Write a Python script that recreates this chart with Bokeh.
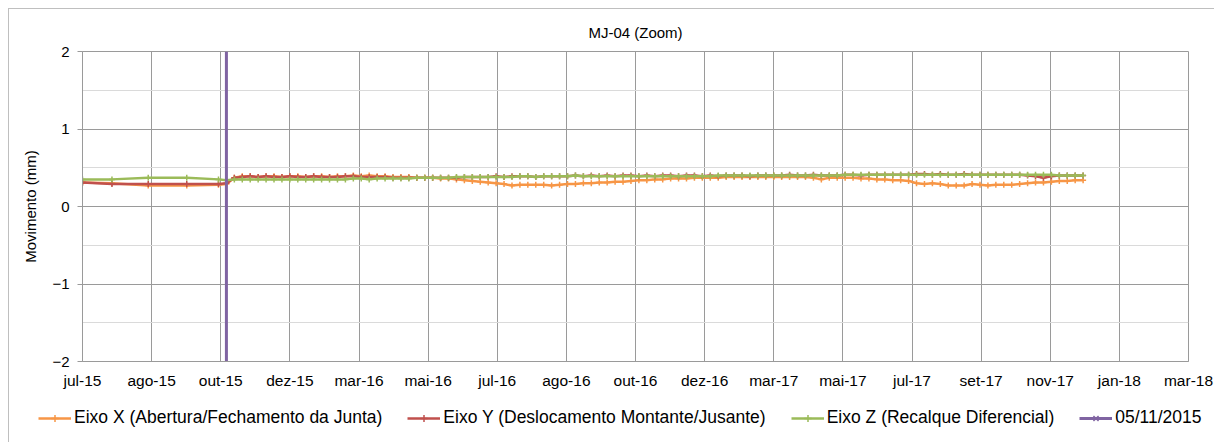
import pandas as pd
from bokeh.plotting import figure
from bokeh.layouts import column
from bokeh.models import FixedTicker, Legend, LegendItem, Range1d
from bokeh.embed import file_html
from bokeh.resources import INLINE

TITLE = "MJ-04 (Zoom)"
Y_LABEL = "Movimento (mm)"
AXIS_START = "2015-07-01"
TICK_STEP_DAYS = 61
TICK_LABELS = ["jul-15", "ago-15", "out-15", "dez-15", "mar-16", "mai-16", "jul-16",
               "ago-16", "out-16", "dez-16", "mar-17", "mai-17", "jul-17", "set-17",
               "nov-17", "jan-18", "mar-18"]
Y_TICKS = [-2, -1, 0, 1, 2]
Y_MINOR = [-1.5, -0.5, 0.5, 1.5]

DATES = [
    "2015-07-01", "2015-07-27", "2015-08-28", "2015-10-01", "2015-10-29",
    "2015-11-05", "2015-11-12", "2015-11-19", "2015-11-26", "2015-12-03", "2015-12-10", "2015-12-17", "2015-12-24", "2015-12-31",
    "2016-01-07", "2016-01-14", "2016-01-21", "2016-01-28",
    "2016-02-04", "2016-02-11", "2016-02-18", "2016-02-25",
    "2016-03-03", "2016-03-10", "2016-03-17", "2016-03-24", "2016-03-31",
    "2016-04-07", "2016-04-14", "2016-04-21", "2016-04-28",
    "2016-05-05", "2016-05-12", "2016-05-19", "2016-05-26",
    "2016-06-02", "2016-06-09", "2016-06-16", "2016-06-23", "2016-06-30",
    "2016-07-07", "2016-07-14", "2016-07-21", "2016-07-28",
    "2016-08-04", "2016-08-11", "2016-08-18", "2016-08-25",
    "2016-09-01", "2016-09-08", "2016-09-15", "2016-09-22", "2016-09-29",
    "2016-10-06", "2016-10-13", "2016-10-20", "2016-10-27",
    "2016-11-03", "2016-11-10", "2016-11-17", "2016-11-24",
    "2016-12-01", "2016-12-08", "2016-12-15", "2016-12-22", "2016-12-29",
    "2017-01-05", "2017-01-12", "2017-01-19", "2017-01-26",
    "2017-02-02", "2017-02-09", "2017-02-16", "2017-02-23",
    "2017-03-02", "2017-03-09", "2017-03-16", "2017-03-23", "2017-03-30",
    "2017-04-06", "2017-04-13", "2017-04-20", "2017-04-27",
    "2017-05-04", "2017-05-11", "2017-05-18", "2017-05-25",
    "2017-06-01", "2017-06-08", "2017-06-15", "2017-06-22", "2017-06-29",
    "2017-07-06", "2017-07-13", "2017-07-20", "2017-07-27",
    "2017-08-03", "2017-08-10", "2017-08-17", "2017-08-24", "2017-08-31",
    "2017-09-07", "2017-09-14", "2017-09-21", "2017-09-28",
    "2017-10-05", "2017-10-12", "2017-10-19", "2017-10-26",
    "2017-11-02", "2017-11-09", "2017-11-16", "2017-11-23", "2017-11-30",
]

EIXO_X = [
    0.31, 0.30, 0.27, 0.27, 0.28,
    0.29, 0.37, 0.39, 0.39, 0.38, 0.39, 0.39, 0.38, 0.39,
    0.39, 0.38, 0.39, 0.39,
    0.38, 0.39, 0.39, 0.40,
    0.39, 0.40, 0.39, 0.39, 0.38,
    0.38, 0.38, 0.37, 0.37,
    0.37, 0.36, 0.36, 0.35,
    0.34, 0.33, 0.32, 0.31, 0.30,
    0.29, 0.27, 0.28, 0.28,
    0.28, 0.28, 0.27, 0.28,
    0.29, 0.29, 0.30, 0.30, 0.31,
    0.31, 0.32, 0.32, 0.33,
    0.34, 0.34, 0.35, 0.35,
    0.36, 0.36, 0.36, 0.37, 0.37,
    0.37, 0.37, 0.38, 0.38,
    0.38, 0.38, 0.38, 0.38,
    0.38, 0.38, 0.38, 0.38, 0.38,
    0.37, 0.35, 0.37, 0.37,
    0.37, 0.37, 0.36, 0.36,
    0.35, 0.35, 0.34, 0.34, 0.33,
    0.30, 0.29, 0.30, 0.29,
    0.27, 0.27, 0.27, 0.29, 0.28,
    0.27, 0.28, 0.28, 0.28,
    0.29, 0.30, 0.31, 0.31,
    0.32, 0.33, 0.33, 0.34, 0.34,
]

EIXO_Y = [
    0.31, 0.29, 0.29, 0.29, 0.29,
    0.30, 0.37, 0.38, 0.39, 0.38, 0.39, 0.38, 0.38, 0.39,
    0.38, 0.38, 0.39, 0.38,
    0.38, 0.38, 0.39, 0.39,
    0.38, 0.38, 0.38, 0.38, 0.37,
    0.37, 0.37, 0.37, 0.37,
    0.37, 0.37, 0.37, 0.37,
    0.38, 0.38, 0.38, 0.38, 0.39,
    0.38, 0.39, 0.39, 0.39,
    0.38, 0.39, 0.39, 0.39,
    0.39, 0.40, 0.39, 0.40, 0.39,
    0.40, 0.39, 0.40, 0.40,
    0.39, 0.40, 0.39, 0.40,
    0.40, 0.39, 0.40, 0.40, 0.39,
    0.40, 0.39, 0.40, 0.40,
    0.40, 0.39, 0.40, 0.40,
    0.40, 0.40, 0.41, 0.40, 0.40,
    0.41, 0.40, 0.40, 0.40,
    0.41, 0.41, 0.40, 0.41,
    0.41, 0.41, 0.41, 0.41, 0.41,
    0.42, 0.42, 0.41, 0.42,
    0.41, 0.41, 0.42, 0.41, 0.41,
    0.41, 0.41, 0.41, 0.41,
    0.41, 0.40, 0.39, 0.37,
    0.39, 0.40, 0.40, 0.40, 0.40,
]

EIXO_Z = [
    0.35, 0.35, 0.37, 0.37, 0.35,
    0.34, 0.35, 0.35, 0.35, 0.35, 0.35, 0.35, 0.35, 0.35,
    0.35, 0.35, 0.35, 0.35,
    0.35, 0.35, 0.35, 0.36,
    0.36, 0.35, 0.36, 0.36, 0.36,
    0.36, 0.36, 0.37, 0.37,
    0.37, 0.37, 0.37, 0.38,
    0.38, 0.38, 0.38, 0.38, 0.38,
    0.38, 0.38, 0.39, 0.39,
    0.38, 0.39, 0.39, 0.39,
    0.39, 0.40, 0.39, 0.39, 0.39,
    0.39, 0.39, 0.39, 0.39,
    0.39, 0.39, 0.39, 0.39,
    0.39, 0.39, 0.39, 0.39, 0.39,
    0.39, 0.40, 0.40, 0.40,
    0.40, 0.40, 0.40, 0.40,
    0.40, 0.40, 0.40, 0.40, 0.40,
    0.40, 0.40, 0.40, 0.40,
    0.41, 0.41, 0.41, 0.41,
    0.41, 0.41, 0.41, 0.41, 0.41,
    0.41, 0.41, 0.41, 0.41,
    0.41, 0.41, 0.41, 0.41, 0.41,
    0.41, 0.41, 0.41, 0.41,
    0.41, 0.41, 0.41, 0.41,
    0.41, 0.40, 0.40, 0.40, 0.40,
]

SERIES_NAMES = ["Eixo X (Abertura/Fechamento da Junta)",
                "Eixo Y (Deslocamento Montante/Jusante)",
                "Eixo Z (Recalque Diferencial)"]
EVENT_LABEL = "05/11/2015"
EVENT_DATE = "2015-11-05"

COLORS = ["#F79646", "#C0504D", "#9BBB59"]
EVENT_COLOR = "#8064A2"
GRID = "#9A9A9A"
FONT = "Liberation Sans"

start = pd.Timestamp(AXIS_START)


def to_days(ds):
    return [(pd.Timestamp(d) - start).days for d in ds]


xd = to_days(DATES)
tick_pos = [i * TICK_STEP_DAYS for i in range(len(TICK_LABELS))]

p = figure(frame_width=1106, frame_height=310, output_backend="svg", toolbar_location=None,
           x_range=Range1d(tick_pos[0], tick_pos[-1]), y_range=Range1d(Y_TICKS[0], Y_TICKS[-1]),
           min_border_left=73, min_border_right=26, min_border_top=42, min_border_bottom=32)
p.frame_align = False

p.title.text = TITLE
p.title.align = "center"
p.title.text_font = FONT
p.title.text_font_size = "15px"
p.title.text_font_style = "normal"
p.title.text_color = "#000000"
p.title.standoff = 21

p.outline_line_color = GRID
p.background_fill_color = "white"
p.border_fill_color = "white"

p.xaxis.ticker = FixedTicker(ticks=tick_pos)
p.xaxis.major_label_overrides = {t: lab for t, lab in zip(tick_pos, TICK_LABELS)}
p.xaxis.major_tick_out = 0
p.xaxis.major_tick_in = 0
p.xaxis.minor_tick_out = 0
p.xaxis.axis_line_color = GRID
p.xaxis.major_label_text_font = FONT
p.xaxis.major_label_text_font_size = "15.5px"
p.xaxis.major_label_text_color = "#000000"
p.xaxis.major_label_standoff = 10
p.xgrid.ticker = FixedTicker(ticks=tick_pos)
p.xgrid.grid_line_color = GRID

yt = FixedTicker(ticks=Y_TICKS, minor_ticks=Y_MINOR)
p.yaxis.ticker = yt
p.yaxis.major_tick_out = 5
p.yaxis.major_tick_in = 0
p.yaxis.minor_tick_out = 0
p.yaxis.minor_tick_in = 0
p.yaxis.axis_line_color = GRID
p.yaxis.major_tick_line_color = GRID
p.yaxis.major_label_text_font = FONT
p.yaxis.major_label_text_font_size = "15px"
p.yaxis.major_label_text_color = "#000000"
p.yaxis.major_label_standoff = 8
p.yaxis.axis_label = Y_LABEL
p.yaxis.axis_label_text_font = FONT
p.yaxis.axis_label_text_font_size = "15px"
p.yaxis.axis_label_text_font_style = "normal"
p.yaxis.axis_label_text_color = "#000000"
p.yaxis.axis_label_standoff = 10
p.ygrid.ticker = yt
p.ygrid.grid_line_color = GRID
p.ygrid.minor_grid_line_color = "#DADADA"

for vals, col in zip([EIXO_X, EIXO_Y, EIXO_Z], COLORS):
    p.line(xd, vals, line_color=col, line_width=2.5)
    p.scatter(xd, vals, marker="cross", size=6, line_color=col, line_width=1.5)

ev = to_days([EVENT_DATE])[0]
p.line([ev, ev], [Y_TICKS[0], Y_TICKS[-1]], line_color=EVENT_COLOR, line_width=3)

# ---- legend strip (separate figure without axes, frame not aligned to the chart) ----
lf = figure(width=p.frame_width + 73 + 26, height=49, output_backend="svg", toolbar_location=None,
            x_range=Range1d(0, 1), y_range=Range1d(0, 1),
            x_axis_location=None, y_axis_location=None,
            min_border=0, min_border_left=0, min_border_right=0, min_border_top=0, min_border_bottom=0)
lf.frame_align = False
lf.grid.visible = False
lf.outline_line_color = None
lf.background_fill_color = "white"
lf.border_fill_color = "white"

items = []
off = [-5, -4]  # outside the strip's visible range: sample glyphs only
for name, col in zip(SERIES_NAMES, COLORS):
    lr = lf.line(off, off, line_color=col, line_width=2.5)
    sr = lf.scatter(off, off, marker="cross", size=6, line_color=col, line_width=1.5)
    items.append(LegendItem(label=name, renderers=[lr, sr]))
er = lf.line(off, off, line_color=EVENT_COLOR, line_width=3)
es = lf.scatter(off, off, marker="x", size=9, line_color=EVENT_COLOR, line_width=1.5)
items.append(LegendItem(label=EVENT_LABEL, renderers=[er, es]))

legend = Legend(items=items, orientation="horizontal", location=(29, 14),
                glyph_width=33, glyph_height=18, label_standoff=3, spacing=25,
                padding=0, margin=0, border_line_alpha=0, background_fill_alpha=0,
                label_text_font=FONT, label_text_font_size="17.5px", label_text_color="#000000")
lf.add_layout(legend)

layout = column(p, lf, spacing=0)
layout.styles = {"margin-left": "8px", "margin-top": "8px",
                 "border-left": "1px solid #BFBFBF", "border-top": "1px solid #BFBFBF"}

open("out.html", "w").write(file_html(layout, INLINE))
